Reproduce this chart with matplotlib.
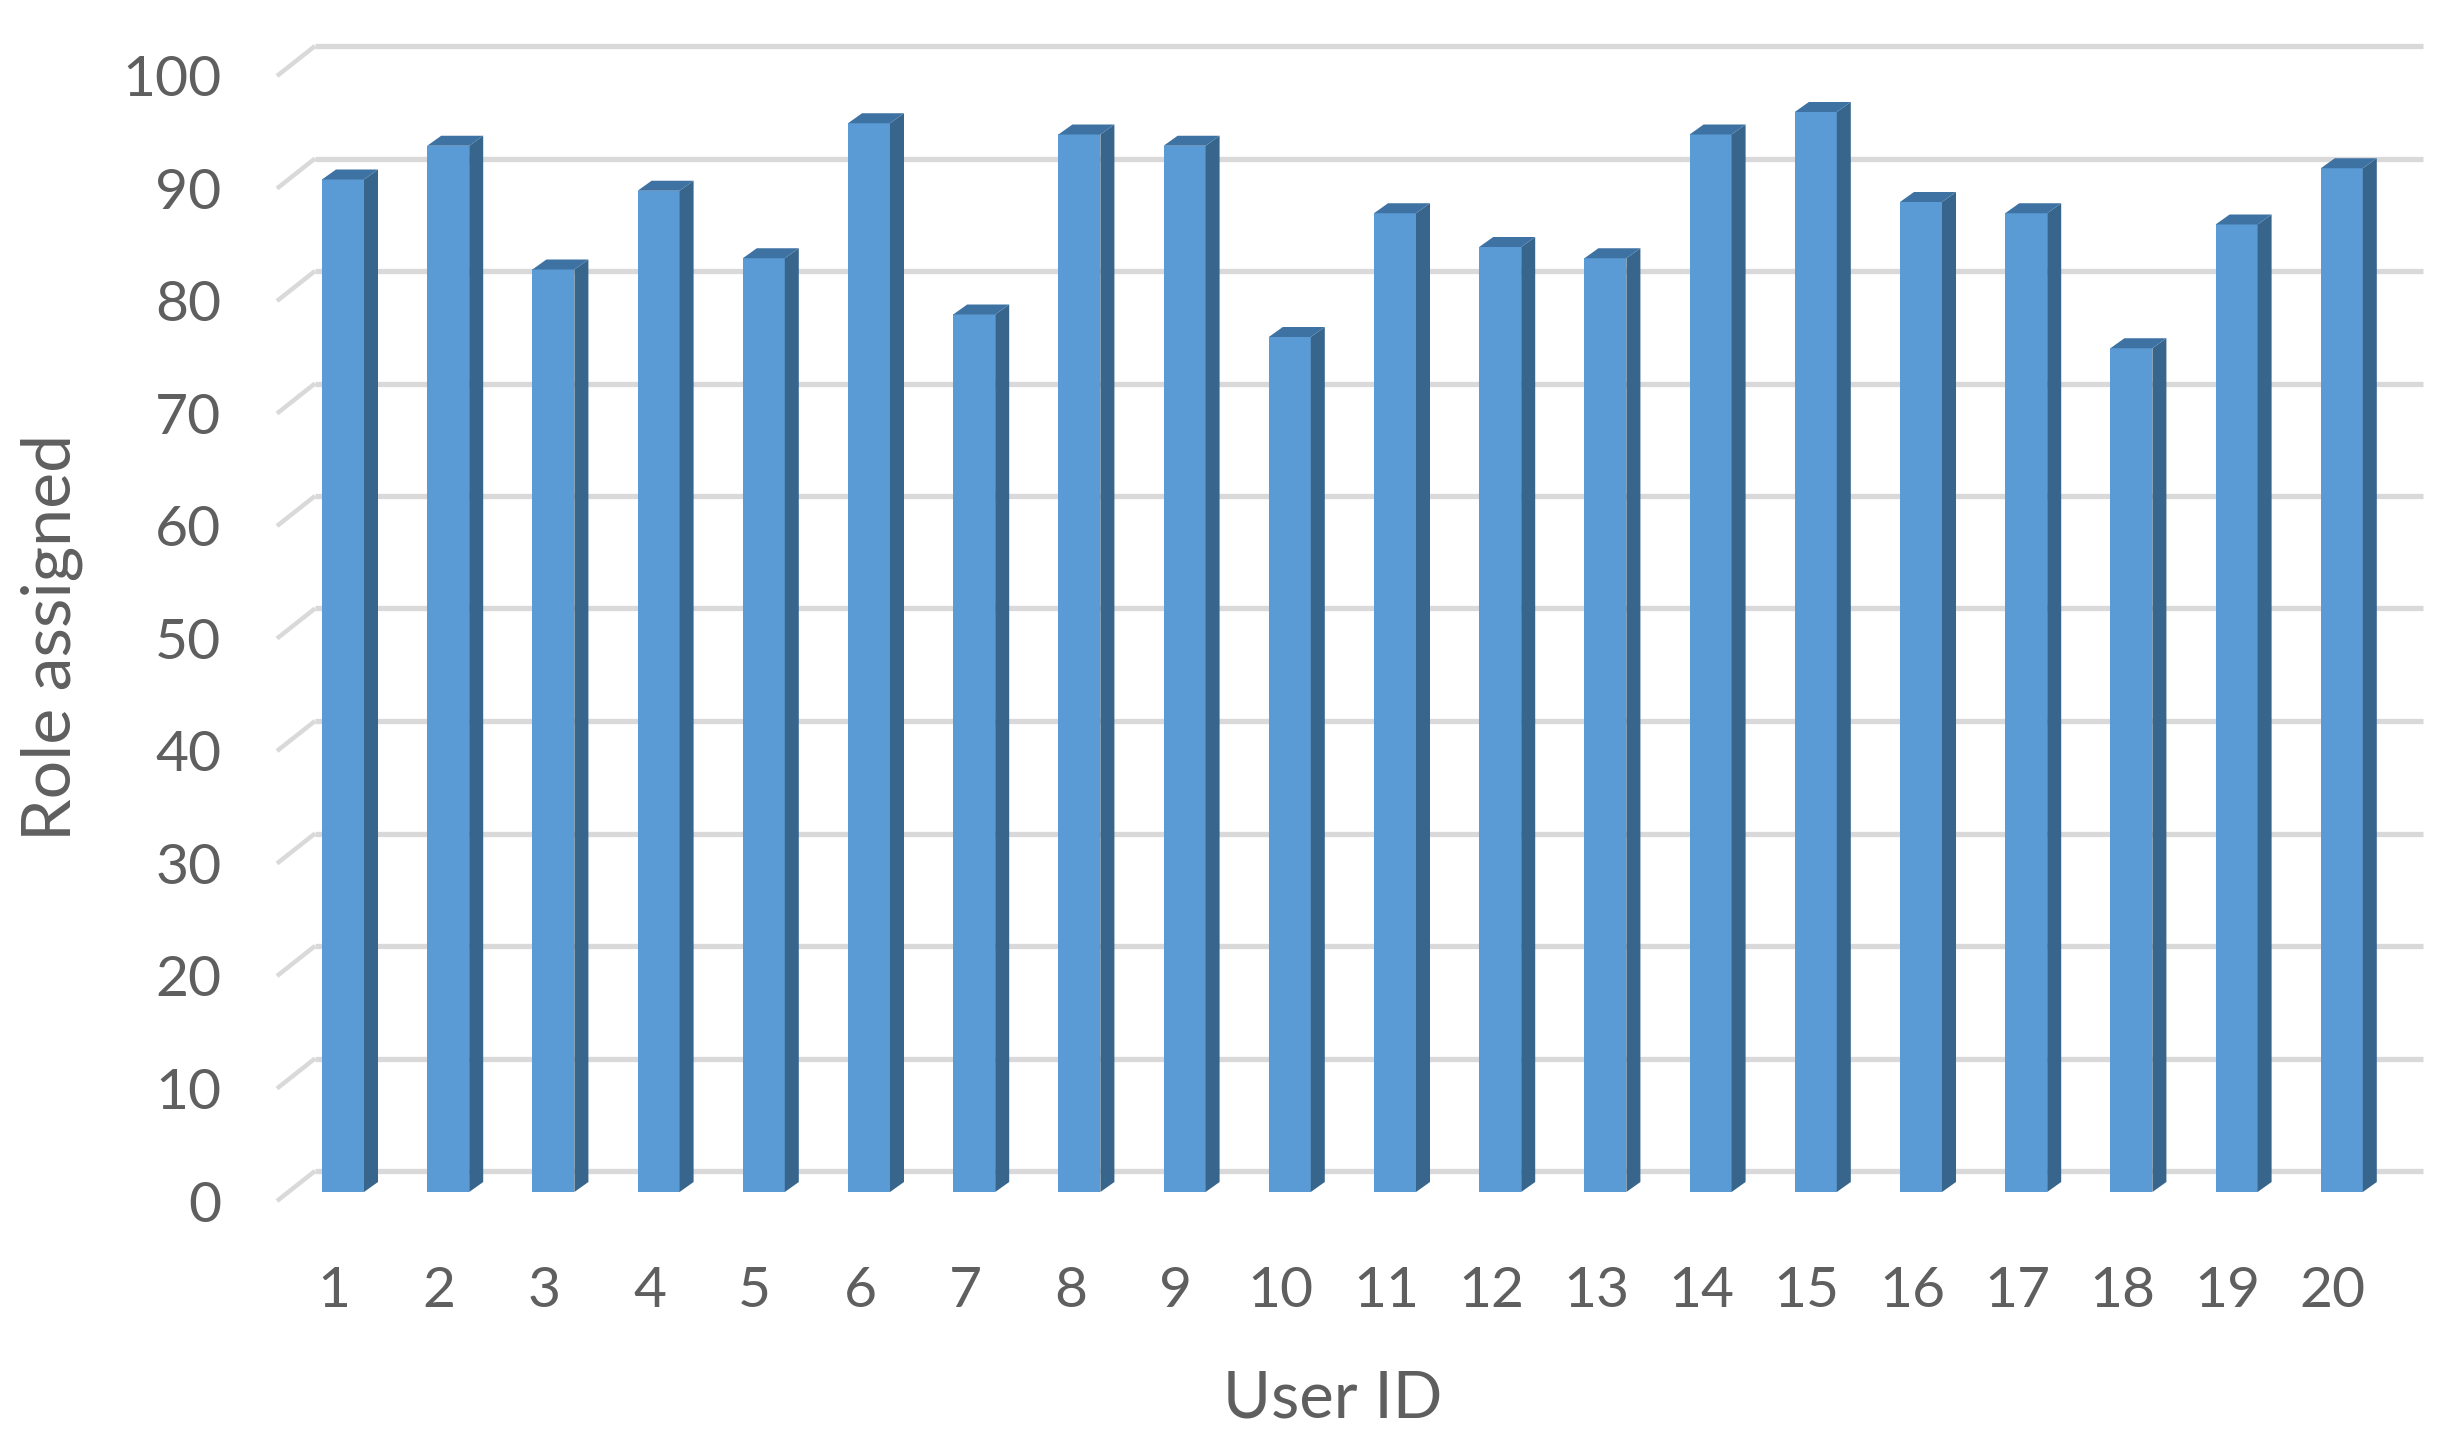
import matplotlib
matplotlib.use("Agg")
import matplotlib.pyplot as plt

# values
user_ids = list(range(1, 21))
roles = [90, 93, 82, 89, 83, 95, 78, 94, 93, 76, 87, 84, 83, 94, 96, 88, 87, 75, 86, 91]
grid_values = list(range(0, 101, 10))

WIDTH, HEIGHT = 2461, 1441

# pixel scale of the bar plane
PX_X = 105.2     # px per user
PX_Y = 11.25     # px per role unit
BAR_X1 = 343     # px centre of first bar
BAR_Y0 = 1192    # px of value 0 in the bar plane

BAR_W = 42 / PX_X
DEPTH_X = 14 / PX_X
DEPTH_Y = 10 / PX_Y

# fake 3d planes, shifted against the bar plane
BACK_SHIFT = 21 / PX_Y
FRONT_SHIFT = -9 / PX_Y

LEFT, RIGHT, TOP, BOTTOM = 277, 2423, 46, 1201
BACK_LEFT = 1 + (315 - BAR_X1) / PX_X
FRONT_LEFT = 1 + (LEFT - BAR_X1) / PX_X
GRID_RIGHT = 1 + (RIGHT - BAR_X1) / PX_X

FRONT_COLOR = "#5b9bd5"
SIDE_COLOR = "#38658c"
TOP_COLOR = "#3e72a3"
GRID_COLOR = "#d9d9d9"
TEXT_COLOR = "#5f5f5f"

plt.rcParams["font.family"] = ["Lato", "DejaVu Sans"]

fig = plt.figure(figsize=(WIDTH / 100, HEIGHT / 100), dpi=100, facecolor="white")
ax = fig.add_axes([
    LEFT / WIDTH,
    1 - BOTTOM / HEIGHT,
    (RIGHT - LEFT) / WIDTH,
    (BOTTOM - TOP) / HEIGHT,
])
ax.set_xlim(FRONT_LEFT, GRID_RIGHT)
ax.set_ylim(FRONT_SHIFT, (BAR_Y0 - TOP) / PX_Y)

# walls
for v in grid_values:
    ax.plot([BACK_LEFT, GRID_RIGHT], [v + BACK_SHIFT] * 2, color=GRID_COLOR, lw=3.8,
            solid_capstyle="butt", zorder=1, clip_on=False)
    ax.plot([FRONT_LEFT, BACK_LEFT], [v + FRONT_SHIFT, v + BACK_SHIFT], color=GRID_COLOR,
            lw=3.2, solid_capstyle="butt", zorder=1, clip_on=False)

# bars, front face then the sides
ax.bar(user_ids, roles, width=BAR_W, color=FRONT_COLOR, edgecolor="none", zorder=3)
for uid, val in zip(user_ids, roles):
    x0 = uid - BAR_W / 2
    x1 = uid + BAR_W / 2
    ax.fill([x1, x1 + DEPTH_X, x1 + DEPTH_X, x1],
            [0, DEPTH_Y, val + DEPTH_Y, val],
            color=SIDE_COLOR, lw=0, zorder=3)
    ax.fill([x0, x1, x1 + DEPTH_X, x0 + DEPTH_X],
            [val, val, val + DEPTH_Y, val + DEPTH_Y],
            color=TOP_COLOR, lw=0, zorder=3)

# labels sit a little left of their bars
ax.set_xticks([u - 9 / PX_X for u in user_ids])
ax.set_xticklabels(user_ids)
ax.set_yticks([v + FRONT_SHIFT for v in grid_values])
ax.set_yticklabels(grid_values)
ax.tick_params(axis="x", length=0, pad=47, labelsize=41, labelcolor=TEXT_COLOR)
ax.tick_params(axis="y", length=0, pad=40, labelsize=41, labelcolor=TEXT_COLOR)

for spine in ax.spines.values():
    spine.set_visible(False)

fig.text(1333 / WIDTH, 1 - 1399 / HEIGHT, "User ID", ha="center", va="center",
         fontsize=47, color=TEXT_COLOR)
fig.text(52 / WIDTH, 1 - 637 / HEIGHT, "Role assigned", ha="center", va="center",
         rotation=90, fontsize=49, color=TEXT_COLOR)

fig.savefig("out.png", dpi=100, facecolor="white")
